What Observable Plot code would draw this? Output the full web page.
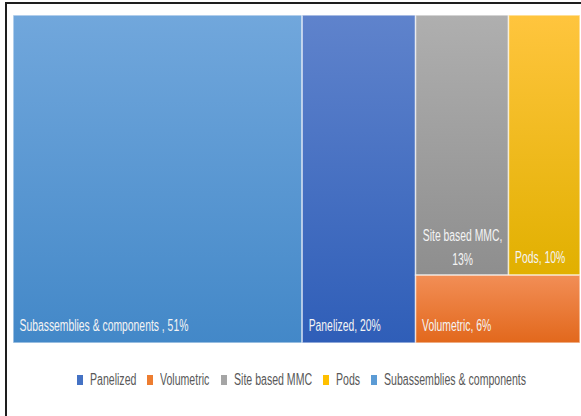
<!DOCTYPE html>
<html><head><meta charset="utf-8">
<script src="https://cdn.jsdelivr.net/npm/d3@7"></script>
<script src="https://cdn.jsdelivr.net/npm/@observablehq/plot@0.6"></script>
<style>
body{margin:0;background:#fff;width:581px;height:416px;overflow:hidden;position:relative;font-family:"Liberation Sans",Arial,sans-serif;}
#chart{position:absolute;left:0;top:0;}
#frame{position:absolute;left:5px;top:2px;width:700px;height:500px;border-left:2px solid #1e1e1e;border-top:2px solid #1e1e1e;pointer-events:none;}
#legend{position:absolute;left:77px;top:371px;height:18px;display:flex;align-items:center;white-space:nowrap;}
.item{display:flex;align-items:center;margin-right:11px;}
.sw{width:6px;height:10px;margin-right:7px;}
.lt{display:inline-block;font-size:16px;color:#595959;transform:scaleX(0.66);transform-origin:left center;}
</style></head><body>
<div id="chart"></div><div id="legend"></div><div id="frame"></div>
<script>
// data
const categories = ["Panelized", "Volumetric", "Site based MMC", "Pods", "Subassemblies & components "];
const shares = [20, 6, 13, 10, 51];

// styles
const palette = {
  "Panelized": {mid: "#4472c4", top: "#5f83cc", bottom: "#2f5eb8"},
  "Volumetric": {mid: "#ed7d31", top: "#f28e56", bottom: "#e2681c"},
  "Site based MMC": {mid: "#a5a5a5", top: "#afafaf", bottom: "#8e8e8e"},
  "Pods": {mid: "#ffc000", top: "#ffc53e", bottom: "#e1b000"},
  "Subassemblies & components ": {mid: "#5b9bd5", top: "#71a7dc", bottom: "#4388c8"}
};
const SX = 0.61;
const LSX = 0.66;

const items = categories.map((c, i) => ({name: c, value: shares[i]})).sort((a, b) => b.value - a.value);
// Excel layout: two largest as full-height columns; the rest stacked (others in a top row, smallest below)
const root = d3.hierarchy({children: [items[0], items[1], {children: [{children: [items[2], items[3]]}, items[4]]}]})
  .sum(d => d.children ? 0 : d.value);
d3.treemap().tile(d3.treemapSliceDice).size([1, 1]).round(false)(root);
const leaves = root.leaves();
const W = 567;
const label = d => `${d.data.name}, ${d.data.value}%`;
const fits = d => label(d).length * 5.3 < (d.x1 - d.x0) * W - 12;

const plot = Plot.plot({
  width: 581, height: 350, margin: 0,
  x: {domain: [0, 1], range: [13, 580], axis: null},
  y: {domain: [0, 1], range: [15, 343], axis: null},
  color: {type: "identity"},
  style: {background: "transparent"},
  marks: [
    Plot.rect(leaves, {x1: d => d.x0, x2: d => d.x1, y1: d => d.y0, y2: d => d.y1,
      fill: d => `url(#g${categories.indexOf(d.data.name)})`, stroke: "#ffffff", strokeOpacity: 0.6, strokeWidth: 1.5}),
    Plot.text(leaves.filter(fits), {x: d => d.x0, y: d => d.y1, dx: 6, dy: -18, text: label,
      textAnchor: "start", fill: "#f4f4f4", fontSize: 17, fontFamily: "Liberation Sans"}),
    Plot.text(leaves.filter(d => !fits(d)), {x: d => (d.x0 + d.x1) / 2, y: d => d.y1, dy: -30,
      text: d => `${d.data.name},\n${d.data.value}%`, lineHeight: 1.41,
      textAnchor: "middle", fill: "#f4f4f4", fontSize: 17, fontFamily: "Liberation Sans"})
  ]
});
const svg = d3.select(plot);
const defs = svg.insert("defs", ":first-child");
categories.forEach((c, i) => {
  const g = defs.append("linearGradient").attr("id", "g" + i).attr("x1", 0).attr("y1", 0).attr("x2", 0).attr("y2", 1);
  g.append("stop").attr("offset", "0%").attr("stop-color", palette[c].top);
  g.append("stop").attr("offset", "100%").attr("stop-color", palette[c].bottom);
});
svg.selectAll("text").each(function() {
  const t = this.getAttribute("transform") || "";
  this.setAttribute("transform", t + ` scale(${SX},1)`);
});
document.getElementById("chart").appendChild(plot);

const leg = d3.select("#legend");
categories.forEach(c => {
  const it = leg.append("div").attr("class", "item");
  it.append("div").attr("class", "sw").style("background", palette[c].mid);
  const t = it.append("span").attr("class", "lt").text(c.trim());
  const w = t.node().offsetWidth;
  t.style("margin-right", `${-w * (1 - LSX)}px`);
});
</script>
</body></html>
